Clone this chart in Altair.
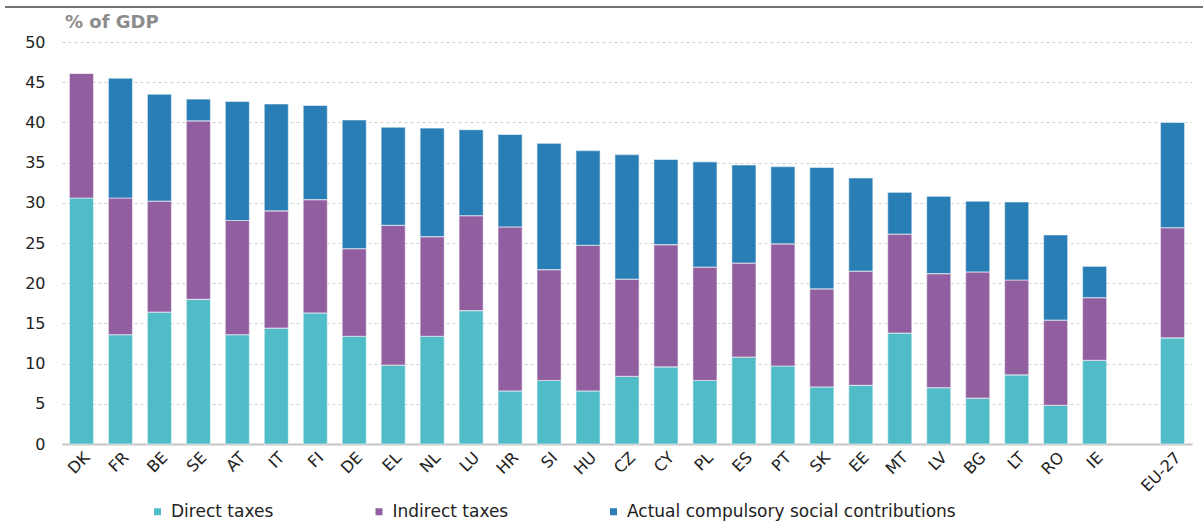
import altair as alt
import pandas as pd

# Tax revenue by type, % of GDP
countries = ["DK", "FR", "BE", "SE", "AT", "IT", "FI", "DE", "EL", "NL", "LU", "HR", "SI", "HU",
             "CZ", "CY", "PL", "ES", "PT", "SK", "EE", "MT", "LV", "BG", "LT", "RO", "IE", "EU-27"]
direct_taxes = [30.6, 13.6, 16.4, 18.0, 13.6, 14.4, 16.3, 13.4, 9.8, 13.4, 16.6, 6.6, 7.9, 6.6,
                8.4, 9.6, 7.9, 10.8, 9.7, 7.1, 7.3, 13.8, 7.0, 5.7, 8.6, 4.8, 10.4, 13.2]
indirect_taxes = [15.5, 17.0, 13.8, 22.2, 14.2, 14.6, 14.1, 10.9, 17.4, 12.4, 11.8, 20.4, 13.8, 18.1,
                  12.1, 15.2, 14.1, 11.7, 15.2, 12.2, 14.2, 12.3, 14.2, 15.7, 11.8, 10.6, 7.8, 13.7]
social_contributions = [0.0, 14.9, 13.3, 2.7, 14.8, 13.3, 11.7, 16.0, 12.2, 13.5, 10.7, 11.5, 15.7, 11.8,
                        15.5, 10.6, 13.1, 12.2, 9.6, 15.1, 11.6, 5.2, 9.6, 8.8, 9.7, 10.6, 3.9, 13.1]

series = ["Direct taxes", "Indirect taxes", "Actual compulsory social contributions"]
colors = ["#4fbcc8", "#915fa0", "#2a7eb6"]
unit_label = "% of GDP"

# empty slot separating the member states from the EU aggregate
x_domain = countries[:-1] + [" "] + countries[-1:]

rows = []
for i, c in enumerate(countries):
    for k, vals in enumerate([direct_taxes, indirect_taxes, social_contributions]):
        rows.append({"country": c, "type": series[k], "value": vals[i], "order": k})
df = pd.DataFrame(rows)

FONT = "DejaVu Sans"

bars = alt.Chart(df).mark_bar(stroke="#ffffff", strokeOpacity=0.5, strokeWidth=1.2).encode(
    x=alt.X("country:N", sort=x_domain,
            scale=alt.Scale(domain=x_domain, paddingInner=0.38, paddingOuter=0.19),
            axis=alt.Axis(title=None, labelAngle=-45, labelFontSize=16, labelFont=FONT,
                          labelColor="#222222", labelPadding=5, ticks=False,
                          domainColor="#c4c4c4", domainWidth=2, grid=False)),
    y=alt.Y("value:Q", stack="zero",
            scale=alt.Scale(domain=[0, 50], nice=False),
            axis=alt.Axis(title=None, values=list(range(0, 51, 5)), labelFontSize=16,
                          labelFont=FONT, labelColor="#222222", labelPadding=17, ticks=False,
                          domain=False, grid=True, gridColor="#d0d0d0", gridDash=[3, 3],
                          gridWidth=1)),
    color=alt.Color("type:N", scale=alt.Scale(domain=series, range=colors),
                    legend=alt.Legend(title=None, orient="none", legendX=87, legendY=461,
                                      direction="horizontal", columns=3, columnPadding=96.5,
                                      symbolType="square", symbolSize=49, symbolStrokeWidth=0,
                                      labelFontSize=17, labelFont=FONT, labelColor="#222222",
                                      labelOffset=5, labelLimit=500, padding=0)),
    order=alt.Order("order:Q"),
)

single = alt.Data(values=[{"label": unit_label}])

# thin dark frame line across the top
top_line = alt.Chart(single).mark_rule(color="#444444", strokeWidth=1.5).encode(
    x=alt.value(-57), x2=alt.value(1141), y=alt.value(-35)
)

# unit caption above the value axis
unit_text = alt.Chart(single).mark_text(
    align="left", baseline="alphabetic", font=FONT, fontSize=18, fontWeight="bold",
    color="#8c8c8c"
).encode(x=alt.value(3), y=alt.value(-14), text="label:N")

chart = alt.layer(bars, top_line, unit_text).properties(
    width=1130, height=402,
    padding={"left": 62, "top": 42, "right": 11, "bottom": 79},
    autosize=alt.AutoSizeParams(type="none"),
    background="white",
).configure_view(stroke=None)

chart.save("out.html", embed_options={"renderer": "svg", "actions": False})
